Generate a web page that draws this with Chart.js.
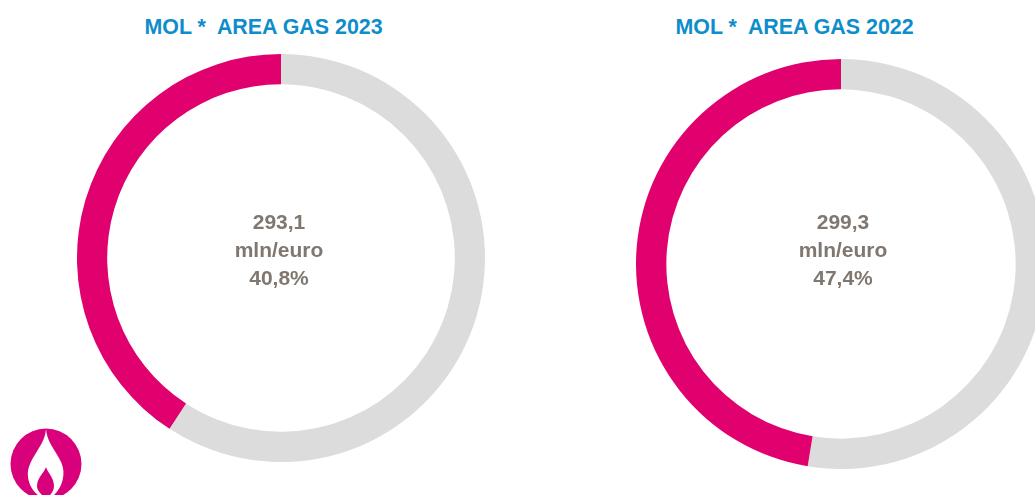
<!DOCTYPE html>
<html><head><meta charset="utf-8">
<script src="https://cdn.jsdelivr.net/npm/chart.js@4"></script>
<style>
html,body{margin:0;padding:0;background:#fff;width:1035px;height:495px;overflow:hidden;font-family:"Liberation Sans",Arial,sans-serif}
#stage{position:relative;width:1035px;height:495px;overflow:hidden}
canvas{position:absolute}
.t{position:absolute;font-weight:bold;white-space:pre;transform:translateX(-50%);text-align:center}
.title{color:#0E8DCB;font-size:21.4px;line-height:24px}
.mid{color:#7F7770;font-size:21px;line-height:28px}
svg{position:absolute;left:0;top:420px}
</style></head><body>
<div id="stage">
<canvas id="c1" width="408" height="408" style="left:77px;top:54px;width:408px;height:408px"></canvas>
<canvas id="c2" width="410" height="410" style="left:636px;top:59px;width:410px;height:410px"></canvas>
<div class="t title" id="t1" style="left:263.5px;top:15px"></div>
<div class="t title" id="t2" style="left:794.5px;top:15px"></div>
<div class="t mid" id="m1" style="left:279px;top:208px"></div>
<div class="t mid" id="m2" style="left:843px;top:208px"></div>
<svg width="100" height="75" viewBox="0 0 100 75">
<circle cx="46" cy="44" r="35.5" fill="#D9007C"/>
<path d="M46 9 C47 20 52 26 56 33 C61 41 65 48 63 58 C62 65 58 71 54 75 L38 75 C33 71 29 65 28 57 C27 48 31 41 36 33 C40 26 45 20 46 9 Z" fill="#fff"/>
<path d="M46 47 C48 53 54 58 54 66 C54 70 52 73 50 75 L42 75 C40 73 37 70 37 66 C37 58 44 53 46 47 Z" fill="#D9007C"/>
</svg>
</div>
<script>
const titles = ["MOL *  AREA GAS 2023", "MOL *  AREA GAS 2022"];
const amounts = ["293,1", "299,3"];
const unit = "mln/euro";
const shareLabels = ["40,8%", "47,4%"];
const categories = ["Altro", "MOL"];
const values2023 = [59.2, 40.8];
const values2022 = [52.6, 47.4];
const colors = ["#DCDCDC", "#E0006E"];

function draw(id, values) {
  new Chart(document.getElementById(id), {
    type: "doughnut",
    data: { labels: categories, datasets: [{ data: values, backgroundColor: colors, borderWidth: 0 }] },
    options: {
      responsive: false, animation: false, cutout: "85.2%",
      layout: { padding: 0 },
      plugins: { legend: { display: false }, tooltip: { enabled: false }, title: { display: false } }
    }
  });
}
draw("c1", values2023);
draw("c2", values2022);
[0, 1].forEach(i => {
  document.getElementById("t" + (i + 1)).textContent = titles[i];
  document.getElementById("m" + (i + 1)).textContent = amounts[i] + "\n" + unit + "\n" + shareLabels[i];
});
</script>
</body></html>
